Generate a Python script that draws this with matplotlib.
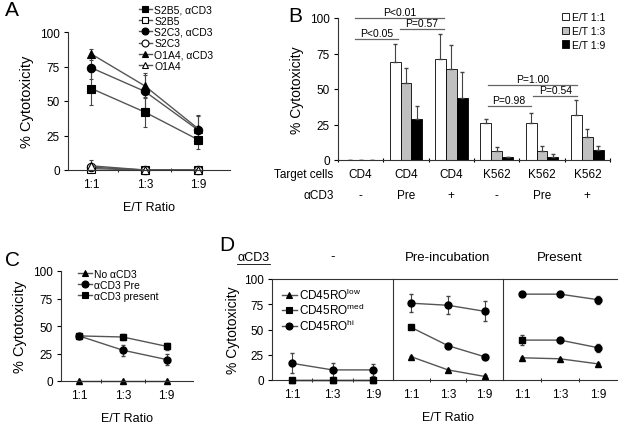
import numpy as np
import matplotlib
matplotlib.use("Agg")
from matplotlib import pyplot as plt
from matplotlib.patches import Patch
from matplotlib.lines import Line2D

plt.rcParams['font.family'] = ['Liberation Sans', 'DejaVu Sans']
plt.rcParams['font.size'] = 8.5

W, H = 624, 431
LINE = '#555555'

# ---- data ----
ratios = ['1:1', '1:3', '1:9']

# A
a_labels = ['S2B5, αCD3', 'S2B5', 'S2C3, αCD3', 'S2C3', 'O1A4, αCD3', 'O1A4']
a_markers = ['s', 's', 'o', 'o', '^', '^']
a_filled = [True, False, True, False, True, False]
a_vals = [[59, 42, 22], [1, 0, 0], [74, 57, 29], [2, 0, 0], [84, 61, 30], [3, 0, 0]]
a_errs = [[12, 11, 7], [1, 0, 0], [8, 12, 10], [2, 0, 0], [4, 9, 10], [4, 0, 0]]

# B
b_targets = ['CD4', 'CD4', 'CD4', 'K562', 'K562', 'K562']
b_acd3 = ['-', 'Pre', '+', '-', 'Pre', '+']
b_series = ['E/T 1:1', 'E/T 1:3', 'E/T 1:9']
b_colors = ['white', '#c0c0c0', 'black']
b_vals = [[0.3, 69, 71, 26, 26, 32],
          [0.3, 54, 64, 6, 6, 16],
          [0.3, 29, 44, 2, 2, 7]]
b_errs = [[0, 13, 18, 3, 7, 10],
          [0, 11, 17, 3, 4, 6],
          [0, 9, 18, 0, 2, 3]]
b_pvals = ['P<0.01', 'P<0.05', 'P=0.57', 'P=1.00', 'P=0.98', 'P=0.54']
b_pspan = [(-0.13, 1.84), (-0.13, 0.83), (0.86, 1.84), (2.8, 4.78), (2.8, 3.75), (3.8, 4.78)]
b_plevel = [100, 85, 92, 53, 38, 45]

# C
c_labels = ['No αCD3', 'αCD3 Pre', 'αCD3 present']
c_markers = ['^', 'o', 's']
c_vals = [[0, 0, 0], [41, 28, 19.5], [41, 40, 31.5]]
c_errs = [[0, 0, 0], [2, 5, 5], [2, 3, 3]]

# D
d_titles = ['-', 'Pre-incubation', 'Present']
d_labels = ['CD45RO$^{\\mathregular{low}}$', 'CD45RO$^{\\mathregular{med}}$', 'CD45RO$^{\\mathregular{hi}}$']
d_low = [[0, 0, 0], [23, 10, 3.5], [22, 21, 16]]
d_med = [[0, 0, 0], [52, 34, 23], [39.5, 39.5, 32]]
d_hi = [[16.5, 10, 10], [76, 74, 68], [85, 85, 79.5]]
d_low_err = [[0, 0, 0], [1, 1, 1], [1, 1, 1]]
d_med_err = [[0, 0, 0], [1, 1, 1], [5, 2, 4]]
d_hi_err = [[10, 7, 6], [9, 9, 10], [1, 1, 4]]
d_med_markers = [['s', 's', 's'], ['s', 'o', 'o'], ['s', 'o', 'o']]

fig = plt.figure(figsize=(W / 100, H / 100), dpi=100)


def rect(x0, x1, ytop, ybot):
    return [x0 / W, 1 - ybot / H, (x1 - x0) / W, (ybot - ytop) / H]


def cat_axis(ax):
    ax.set_xticks([1, 2, 3])
    ax.set_xticklabels(ratios)
    ax.tick_params(axis='x', which='major', length=0, pad=6)
    ax.set_xticks([1.5, 2.5], minor=True)
    ax.tick_params(axis='x', which='minor', length=3, direction='inout')
    ax.set_yticks([0, 25, 50, 75, 100])
    ax.tick_params(axis='y', length=3, direction='out', pad=3)
    for s in ax.spines.values():
        s.set_color('#333333')
        s.set_linewidth(0.8)


def handle(m, filled=True, ms=5):
    return Line2D([], [], color=LINE, lw=1, marker=m, ms=ms,
                  mfc='black' if filled else 'white', mec='black', mew=0.8)


x = np.array([1, 2, 3])

# ---- A ----
ax = fig.add_axes(rect(68, 230, 33, 171))
for lab, m, f, v, e in zip(a_labels, a_markers, a_filled, a_vals, a_errs):
    ax.errorbar(x, v, yerr=e, color=LINE, lw=1, marker=m, ms=6,
                mfc='black' if f else 'white', mec='black', mew=0.8,
                ecolor='#444444', elinewidth=0.8, capsize=1.5, clip_on=False)
ax.set_xlim(0.56, 3.6)
ax.set_ylim(0, 100)
ax.spines[['top', 'right']].set_visible(False)
cat_axis(ax)
ax.set_ylabel('% Cytotoxicity', fontsize=10.5, labelpad=4)
ax.set_xlabel('E/T Ratio', fontsize=9, labelpad=8)
ax.legend([handle(m, f, 5) for m, f in zip(a_markers, a_filled)], a_labels,
          loc='upper left', bbox_to_anchor=(0.41, 1.23), frameon=False, fontsize=7.5,
          handlelength=1.3, handletextpad=0.2, labelspacing=0.12, borderaxespad=0)

# ---- B ----
ax = fig.add_axes(rect(338, 610, 19, 161))
gx = np.arange(6)
bw = 0.24
for i in range(3):
    ax.bar(gx + (i - 1) * bw, b_vals[i], bw, color=b_colors[i], edgecolor='black',
           lw=0.6, yerr=[np.zeros(6), b_errs[i]], ecolor='#444444',
           error_kw=dict(elinewidth=0.8, capsize=1.5), label=b_series[i])
for t, (x0, x1), lv in zip(b_pvals, b_pspan, b_plevel):
    ax.plot([x0, x1], [lv, lv], color='#666666', lw=0.9, clip_on=False)
    ax.text((x0 + x1) / 2, lv + 0.8, t, ha='center', va='bottom', fontsize=7.5)
ax.set_xlim(-0.46, 5.5)
ax.set_ylim(0, 100)
ax.set_yticks([0, 25, 50, 75, 100])
ax.set_xticks(np.arange(-0.5, 6, 1))
ax.set_xticklabels([])
ax.tick_params(axis='x', length=3, direction='inout')
ax.tick_params(axis='y', length=3, direction='out', pad=3)
ax.spines[['top', 'right']].set_visible(False)
for s in ax.spines.values():
    s.set_color('#333333')
    s.set_linewidth(0.8)
ax.set_ylabel('% Cytotoxicity', fontsize=10, labelpad=4)
for i in range(6):
    ax.text(i, -10, b_targets[i], ha='center', va='center', fontsize=8.5)
    ax.text(i, -25, b_acd3[i], ha='center', va='center', fontsize=8.5)
ax.text(-0.6, -10, 'Target cells', ha='right', va='center', fontsize=8.5)
ax.text(-0.6, -25, 'αCD3', ha='right', va='center', fontsize=8.5)
handles = [Patch(facecolor=c, edgecolor='black', lw=0.6) for c in b_colors]
ax.legend(handles, b_series, loc='upper right', bbox_to_anchor=(1.0, 1.07), frameon=False,
          fontsize=7.5, handlelength=0.7, handleheight=0.7, handletextpad=0.3,
          labelspacing=0.35, borderaxespad=0)

# ---- C ----
ax = fig.add_axes(rect(61, 193, 272, 382))
for lab, m, v, e in zip(c_labels, c_markers, c_vals, c_errs):
    ax.errorbar(x, v, yerr=e, color=LINE, lw=1, marker=m, ms=5, mfc='black', mec='black',
                ecolor='#444444', elinewidth=0.8, capsize=1.5, clip_on=False)
ax.set_xlim(0.59, 3.6)
ax.set_ylim(0, 100)
ax.spines[['top', 'right']].set_visible(False)
cat_axis(ax)
ax.set_ylabel('% Cytotoxicity', fontsize=10.5, labelpad=4)
ax.set_xlabel('E/T Ratio', fontsize=9, labelpad=8)
ax.legend([handle(m) for m in c_markers], c_labels, loc='upper left',
          bbox_to_anchor=(0.1, 1.06), frameon=False, fontsize=7.5,
          handlelength=1.3, handletextpad=0.2, labelspacing=0.1, borderaxespad=0)

# ---- D ----
d_x = [(272, 393), (393, 503), (503, 617)]
for p in range(3):
    ax = fig.add_axes(rect(d_x[p][0], d_x[p][1], 280, 381))
    ax.errorbar(x, d_low[p], yerr=d_low_err[p], color=LINE, lw=1, marker='^', ms=5,
                mfc='black', mec='black', ecolor='#444444', elinewidth=0.8, capsize=1.5,
                clip_on=False)
    ax.errorbar(x, d_med[p], yerr=d_med_err[p], color=LINE, lw=1, ecolor='#444444',
                elinewidth=0.8, capsize=1.5, clip_on=False)
    for xi, yi, mk in zip(x, d_med[p], d_med_markers[p]):
        ax.plot(xi, yi, marker=mk, ms=5, color='black', clip_on=False, zorder=3)
    ax.errorbar(x, d_hi[p], yerr=d_hi_err[p], color=LINE, lw=1, marker='o', ms=5,
                mfc='black', mec='black', ecolor='#444444', elinewidth=0.8, capsize=1.5,
                clip_on=False)
    ax.set_xlim(0.5, 3.5)
    ax.set_ylim(0, 100)
    cat_axis(ax)
    ax.spines['right'].set_visible(False)
    if p > 0:
        ax.tick_params(axis='y', left=False, labelleft=False)
    else:
        ax.set_ylabel('% Cytotoxicity', fontsize=10, labelpad=3)
        ax.legend([handle('^'), handle('s'), handle('o')], d_labels, loc='upper left',
                  bbox_to_anchor=(0.04, 0.97), frameon=False, fontsize=8.5,
                  handlelength=1.3, handletextpad=0.2, labelspacing=0.02, borderaxespad=0)
    ax.set_title(d_titles[p], fontsize=9.5, pad=14)
    if p == 1:
        ax.set_xlabel('E/T Ratio', fontsize=9, labelpad=8)

fig.text(237 / W, 1 - 258 / H, 'αCD3', fontsize=9, va='center', ha='left')
fig.add_artist(Line2D([237 / W, 270 / W], [1 - 265 / H, 1 - 265 / H], color='black', lw=0.6))

# panel letters
for lab, px, py in [('A', 12, 11), ('B', 295, 17), ('C', 12, 261), ('D', 227, 246)]:
    fig.text(px / W, 1 - py / H, lab, fontsize=15, ha='center', va='center')

fig.savefig('out.png', dpi=100)
